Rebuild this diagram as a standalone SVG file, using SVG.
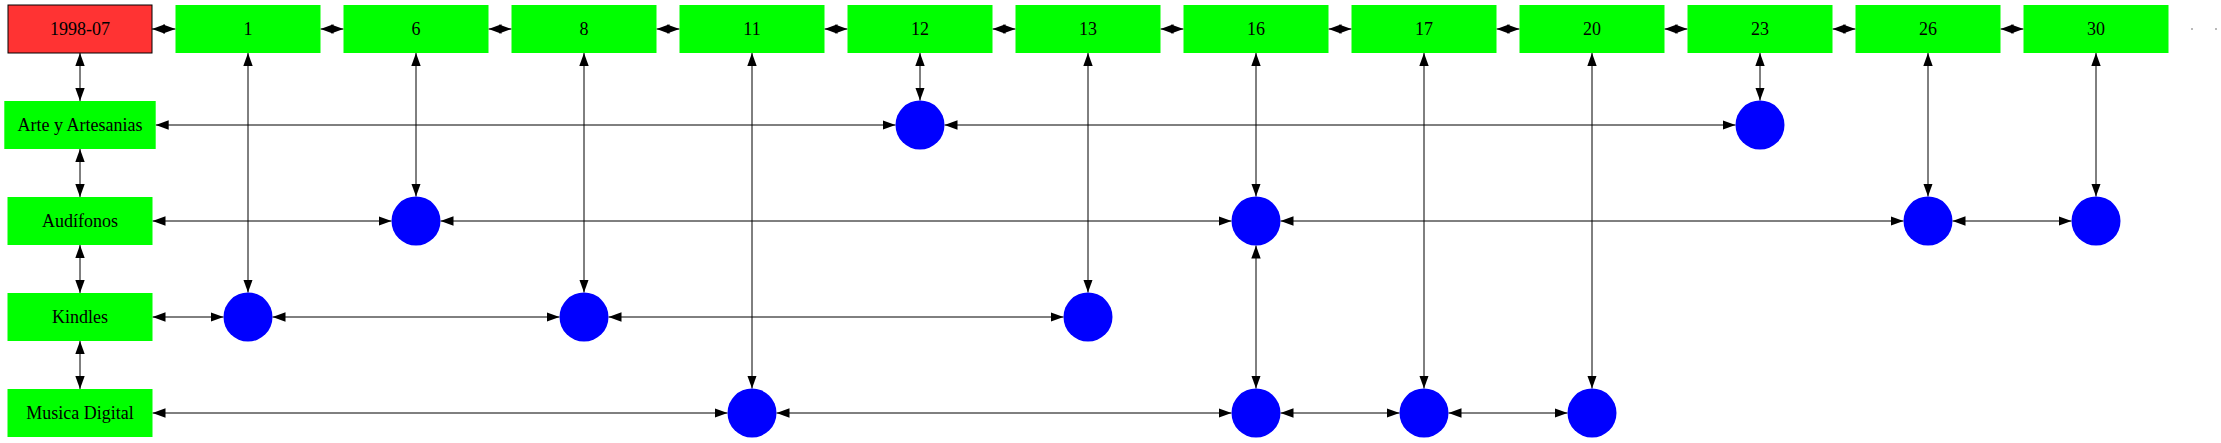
<svg xmlns="http://www.w3.org/2000/svg" width="2221" height="443" viewBox="0 0 2221 443">
<style>
.box{fill:#00ff00;stroke:none}
.root{fill:#ff3333;stroke:#000;stroke-width:1}
.dot{fill:#0000ff;stroke:none}
.lbl{font-family:"Liberation Serif","Times New Roman",serif;font-size:18px;fill:#000;text-anchor:middle}
.e{stroke:#000;stroke-width:1;fill:none;marker-start:url(#ah);marker-end:url(#ah)}
</style>
<defs>
<marker id="ah" markerUnits="userSpaceOnUse" markerWidth="14" markerHeight="10" refX="13" refY="4.7" orient="auto-start-reverse">
<path d="M0,0 L13,4.7 L0,9.4 z" fill="#000"/>
</marker>
</defs>
<rect width="2221" height="443" fill="#fff"/>
<g id="connectors">
<line class="e" x1="152" y1="29" x2="175.5" y2="29"/>
<line class="e" x1="320.5" y1="29" x2="343.5" y2="29"/>
<line class="e" x1="488.5" y1="29" x2="511.5" y2="29"/>
<line class="e" x1="656.5" y1="29" x2="679.5" y2="29"/>
<line class="e" x1="824.5" y1="29" x2="847.5" y2="29"/>
<line class="e" x1="992.5" y1="29" x2="1015.5" y2="29"/>
<line class="e" x1="1160.5" y1="29" x2="1183.5" y2="29"/>
<line class="e" x1="1328.5" y1="29" x2="1351.5" y2="29"/>
<line class="e" x1="1496.5" y1="29" x2="1519.5" y2="29"/>
<line class="e" x1="1664.5" y1="29" x2="1687.5" y2="29"/>
<line class="e" x1="1832.5" y1="29" x2="1855.5" y2="29"/>
<line class="e" x1="2000.5" y1="29" x2="2023.5" y2="29"/>
<rect x="2191" y="28.5" width="2" height="1" fill="#777"/>
<rect x="2215" y="28.5" width="2" height="1" fill="#777"/>
<line class="e" x1="80" y1="53" x2="80" y2="101"/>
<line class="e" x1="80" y1="149" x2="80" y2="197"/>
<line class="e" x1="80" y1="245" x2="80" y2="293"/>
<line class="e" x1="80" y1="341" x2="80" y2="389"/>
<line class="e" x1="155.7" y1="125" x2="895.5" y2="125"/>
<line class="e" x1="944.5" y1="125" x2="1735.5" y2="125"/>
<line class="e" x1="152.5" y1="221" x2="391.5" y2="221"/>
<line class="e" x1="440.5" y1="221" x2="1231.5" y2="221"/>
<line class="e" x1="1280.5" y1="221" x2="1903.5" y2="221"/>
<line class="e" x1="1952.5" y1="221" x2="2071.5" y2="221"/>
<line class="e" x1="152.5" y1="317" x2="223.5" y2="317"/>
<line class="e" x1="272.5" y1="317" x2="559.5" y2="317"/>
<line class="e" x1="608.5" y1="317" x2="1063.5" y2="317"/>
<line class="e" x1="152.5" y1="413" x2="727.5" y2="413"/>
<line class="e" x1="776.5" y1="413" x2="1231.5" y2="413"/>
<line class="e" x1="1280.5" y1="413" x2="1399.5" y2="413"/>
<line class="e" x1="1448.5" y1="413" x2="1567.5" y2="413"/>
<line class="e" x1="920" y1="53" x2="920" y2="100.5"/>
<line class="e" x1="1760" y1="53" x2="1760" y2="100.5"/>
<line class="e" x1="416" y1="53" x2="416" y2="196.5"/>
<line class="e" x1="1256" y1="53" x2="1256" y2="196.5"/>
<line class="e" x1="1928" y1="53" x2="1928" y2="196.5"/>
<line class="e" x1="2096" y1="53" x2="2096" y2="196.5"/>
<line class="e" x1="248" y1="53" x2="248" y2="292.5"/>
<line class="e" x1="584" y1="53" x2="584" y2="292.5"/>
<line class="e" x1="1088" y1="53" x2="1088" y2="292.5"/>
<line class="e" x1="752" y1="53" x2="752" y2="388.5"/>
<line class="e" x1="1256" y1="245.5" x2="1256" y2="388.5"/>
<line class="e" x1="1424" y1="53" x2="1424" y2="388.5"/>
<line class="e" x1="1592" y1="53" x2="1592" y2="388.5"/>
</g>
<g id="n1998-07"><rect class="root" x="8" y="5" width="144" height="48"/><text class="lbl" x="80" y="35">1998-07</text></g>
<g id="n1"><rect class="box" x="175.5" y="5" width="145" height="48"/><text class="lbl" x="248" y="35">1</text></g>
<g id="n6"><rect class="box" x="343.5" y="5" width="145" height="48"/><text class="lbl" x="416" y="35">6</text></g>
<g id="n8"><rect class="box" x="511.5" y="5" width="145" height="48"/><text class="lbl" x="584" y="35">8</text></g>
<g id="n11"><rect class="box" x="679.5" y="5" width="145" height="48"/><text class="lbl" x="752" y="35">11</text></g>
<g id="n12"><rect class="box" x="847.5" y="5" width="145" height="48"/><text class="lbl" x="920" y="35">12</text></g>
<g id="n13"><rect class="box" x="1015.5" y="5" width="145" height="48"/><text class="lbl" x="1088" y="35">13</text></g>
<g id="n16"><rect class="box" x="1183.5" y="5" width="145" height="48"/><text class="lbl" x="1256" y="35">16</text></g>
<g id="n17"><rect class="box" x="1351.5" y="5" width="145" height="48"/><text class="lbl" x="1424" y="35">17</text></g>
<g id="n20"><rect class="box" x="1519.5" y="5" width="145" height="48"/><text class="lbl" x="1592" y="35">20</text></g>
<g id="n23"><rect class="box" x="1687.5" y="5" width="145" height="48"/><text class="lbl" x="1760" y="35">23</text></g>
<g id="n26"><rect class="box" x="1855.5" y="5" width="145" height="48"/><text class="lbl" x="1928" y="35">26</text></g>
<g id="n30"><rect class="box" x="2023.5" y="5" width="145" height="48"/><text class="lbl" x="2096" y="35">30</text></g>
<g id="arte"><rect class="box" x="4.3" y="101" width="151.4" height="48"/><text class="lbl" x="80" y="131">Arte y Artesanias</text></g>
<g id="audifonos"><rect class="box" x="7.5" y="197" width="145" height="48"/><text class="lbl" x="80" y="227">Audífonos</text></g>
<g id="kindles"><rect class="box" x="7.5" y="293" width="145" height="48"/><text class="lbl" x="80" y="323">Kindles</text></g>
<g id="musica"><rect class="box" x="7.5" y="389" width="145" height="48"/><text class="lbl" x="80" y="419">Musica Digital</text></g>
<g id="c_arte_12"><circle class="dot" cx="920" cy="125" r="24.5"/></g>
<g id="c_arte_23"><circle class="dot" cx="1760" cy="125" r="24.5"/></g>
<g id="c_aud_6"><circle class="dot" cx="416" cy="221" r="24.5"/></g>
<g id="c_aud_16"><circle class="dot" cx="1256" cy="221" r="24.5"/></g>
<g id="c_aud_26"><circle class="dot" cx="1928" cy="221" r="24.5"/></g>
<g id="c_aud_30"><circle class="dot" cx="2096" cy="221" r="24.5"/></g>
<g id="c_kin_1"><circle class="dot" cx="248" cy="317" r="24.5"/></g>
<g id="c_kin_8"><circle class="dot" cx="584" cy="317" r="24.5"/></g>
<g id="c_kin_13"><circle class="dot" cx="1088" cy="317" r="24.5"/></g>
<g id="c_mus_11"><circle class="dot" cx="752" cy="413" r="24.5"/></g>
<g id="c_mus_16"><circle class="dot" cx="1256" cy="413" r="24.5"/></g>
<g id="c_mus_17"><circle class="dot" cx="1424" cy="413" r="24.5"/></g>
<g id="c_mus_20"><circle class="dot" cx="1592" cy="413" r="24.5"/></g>
</svg>
